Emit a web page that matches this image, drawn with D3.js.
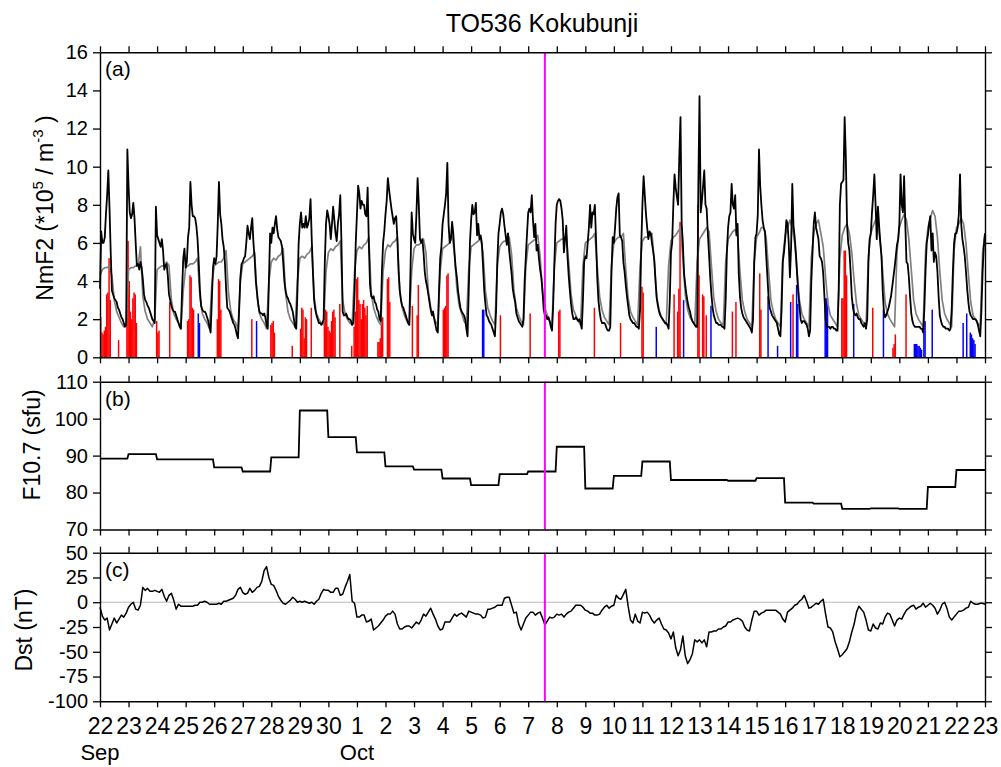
<!DOCTYPE html>
<html>
<head>
<meta charset="utf-8">
<script src="https://cdn.jsdelivr.net/npm/d3@7"></script>
<style>
  body { margin: 0; background: #fff; }
  svg { display: block; font-family: "Liberation Sans", Arial, Helvetica, sans-serif; }
</style>
</head>
<body>
<svg id="chart" width="1001" height="767"></svg>
<script>
// ---------------------------------------------------------------------------
// Kokubunji ionosonde (TO536), 22 Sep 00 UT – 23 Oct 00 UT
// ---------------------------------------------------------------------------

const titleText = "TO536 Kokubunji";

// Day tick labels along the time axis (one per UT midnight) and month names
const dayTicks = ["22","23","24","25","26","27","28","29","30","1","2","3","4","5","6",
                  "7","8","9","10","11","12","13","14","15","16","17","18","19","20","21","22","23"];
const monthTicks = [{ day: 0, label: "Sep" }, { day: 9, label: "Oct" }];

// Hourly observed NmF2, one row per UT day
const nmf2Obs = [
  [3.6,6.6,6.0,6.0,6.3,7.5,8.5,9.8,7.8,5.5,3.5,3.3,3.1,3.0,2.9,2.6,2.5,2.3,2.1,2.0,1.8,1.6,1.7,10.9],
  [9.0,7.6,7.3,7.5,8.1,7.3,6.0,4.8,4.9,4.6,5.0,4.7,4.1,3.3,3.0,2.9,2.7,2.6,2.4,2.2,2.0,1.9,1.8,7.9],
  [6.4,6.2,6.0,5.8,6.2,5.6,4.6,4.8,4.9,4.3,3.3,3.0,2.7,2.5,2.4,2.4,2.2,2.0,1.8,1.6,1.5,3.5,5.2,5.7],
  [4.7,5.0,6.3,6.8,9.2,8.0,7.4,7.4,7.3,6.9,6.2,5.0,3.5,2.7,2.5,2.4,2.4,2.3,2.1,1.9,1.6,1.3,3.0,4.7],
  [5.2,4.9,5.3,7.0,9.2,7.5,7.0,6.2,5.8,5.0,3.6,2.6,2.5,2.4,2.2,2.0,1.8,1.7,1.5,1.2,1.0,2.5,4.2,4.9],
  [5.0,5.2,5.3,6.0,6.9,6.5,6.2,6.8,7.3,6.0,5.2,4.0,3.4,2.8,2.4,2.3,2.3,2.2,2.3,2.1,1.7,1.5,4.0,6.5],
  [6.0,6.8,6.5,7.0,7.4,6.7,6.3,6.2,6.1,5.8,5.0,4.0,3.5,3.2,3.1,2.9,2.8,2.6,2.4,2.0,1.6,1.5,3.5,6.0],
  [7.0,7.6,6.8,7.0,6.8,7.4,6.8,7.0,7.3,8.3,6.2,4.5,3.0,2.5,2.2,2.0,1.8,1.8,1.7,1.8,2.0,5.0,7.0,7.7],
  [7.4,7.0,6.2,7.0,7.9,7.2,6.5,6.1,7.0,7.5,8.5,6.0,2.4,2.2,2.2,2.3,2.1,2.0,2.0,1.9,1.7,1.8,3.5,6.0],
  [7.5,9.0,8.6,7.8,8.2,8.0,8.0,7.5,7.4,8.9,6.0,3.8,3.2,3.1,3.2,2.9,2.8,2.5,2.4,2.0,1.9,4.5,6.0,6.6],
  [7.5,8.2,9.4,8.8,8.3,7.8,7.4,7.0,7.3,7.4,6.2,4.5,3.5,3.0,2.7,2.6,2.4,2.2,2.0,1.8,1.7,4.5,7.6,6.5],
  [6.2,6.0,7.5,9.4,8.0,6.2,6.0,6.2,5.5,4.5,4.0,3.7,3.3,2.9,2.5,2.2,2.4,2.0,1.7,1.4,1.3,3.5,5.2,5.8],
  [7.0,7.5,8.0,8.6,10.2,7.0,6.0,6.2,7.1,6.5,5.5,4.7,4.2,3.5,3.0,2.6,2.4,2.3,2.2,2.0,1.5,1.1,3.5,6.0],
  [7.2,8.0,7.5,7.6,8.1,6.4,7.0,6.2,6.4,6.0,4.8,3.5,2.8,2.2,2.1,1.9,1.8,1.7,1.5,1.3,1.1,2.5,5.0,6.5],
  [7.0,7.6,7.8,7.5,6.9,6.4,5.9,6.5,5.6,5.0,4.4,3.6,3.2,2.9,2.3,2.1,1.9,1.8,1.7,1.6,2.0,4.0,5.3,6.5],
  [7.6,7.8,7.6,8.5,7.2,6.3,7.0,5.6,5.9,5.2,4.6,4.2,3.5,2.5,2.2,2.2,2.0,2.1,1.9,1.6,1.4,2.8,5.0,7.0],
  [8.0,8.2,8.3,8.2,7.8,7.2,5.5,6.2,6.9,5.3,4.3,3.5,2.8,2.3,2.0,2.0,2.1,2.0,1.9,2.0,1.8,1.5,3.0,5.0],
  [5.3,5.2,6.0,6.8,8.0,6.8,7.6,7.5,8.0,6.2,4.2,3.0,2.4,2.0,1.8,1.8,1.8,1.7,1.5,1.4,1.4,1.6,4.5,6.3],
  [6.0,6.8,7.8,8.4,8.6,6.4,6.3,6.1,5.0,4.5,3.8,3.2,2.7,2.2,2.0,1.9,1.8,1.8,1.7,1.6,1.6,1.5,2.5,5.8],
  [8.0,9.5,8.5,7.5,6.8,6.2,6.6,6.5,6.0,5.6,5.1,4.0,3.1,2.7,2.4,2.2,2.1,2.0,1.9,1.8,1.8,1.7,1.5,3.0],
  [5.5,6.0,8.0,9.6,8.9,8.4,8.0,10.5,12.6,7.0,6.0,4.4,3.8,3.3,2.9,2.6,2.4,2.1,1.9,1.8,1.7,1.6,1.6,9.0],
  [13.7,7.6,8.2,9.0,9.8,8.0,7.8,6.5,5.4,4.2,3.3,2.6,2.2,2.0,1.8,1.8,1.7,1.7,1.7,1.6,1.6,1.5,3.0,5.5],
  [6.8,7.4,7.6,9.1,8.0,7.8,8.5,6.4,7.0,4.4,3.2,2.6,2.3,2.1,2.0,1.9,1.8,1.7,1.6,1.5,1.3,2.0,5.0,6.3],
  [6.5,7.5,10.9,9.0,8.0,7.2,6.8,6.6,5.4,4.3,3.2,2.6,2.4,2.2,2.1,2.0,1.9,1.8,1.5,1.2,1.1,2.5,5.0,5.5],
  [6.2,7.2,7.0,6.0,4.2,5.8,9.1,6.9,6.3,5.5,4.4,3.4,2.7,2.0,1.8,1.9,1.9,1.8,1.7,1.5,1.1,1.4,4.0,5.5],
  [7.0,7.6,6.8,6.5,6.2,5.3,5.2,5.0,4.4,3.2,2.0,1.6,1.6,1.6,1.5,1.6,1.6,1.5,1.5,1.4,1.4,3.5,8.0,9.1],
  [9.2,9.3,12.6,10.5,7.0,6.0,5.6,4.5,3.2,2.6,2.3,2.2,2.3,2.1,2.0,2.0,1.8,1.7,1.6,1.8,1.5,2.0,5.0,6.2],
  [6.5,7.6,8.5,9.6,8.0,6.2,7.9,6.9,6.0,5.3,3.5,2.4,2.1,2.2,2.4,2.6,2.9,3.2,3.7,4.2,4.7,5.3,5.9,6.2],
  [7.0,9.6,8.0,7.6,9.5,7.0,5.0,4.9,4.2,3.2,2.3,1.9,1.7,1.6,1.6,1.6,1.6,1.6,1.5,1.5,1.3,2.5,4.5,6.0],
  [6.4,7.0,7.4,5.6,6.5,5.0,5.5,5.3,4.5,3.2,2.2,1.9,1.7,1.6,1.6,1.5,1.5,1.5,1.4,1.5,2.5,4.5,6.0,6.5],
  [6.5,6.8,7.5,9.6,7.0,6.2,5.8,5.3,4.5,3.6,2.9,2.4,2.2,2.1,2.0,2.0,2.0,1.9,1.7,1.4,1.1,2.5,4.5,5.8]
];
const nmf2ObsLast = 6.5;   // 23 Oct 00 UT

// Reference (median) NmF2, every 2 hours, one row per UT day
const nmf2Median = [
  [4.3,4.6,4.7,4.7,4.8,4.3,3.0,2.4,2.1,1.8,1.6,1.8],
  [4.6,4.7,4.7,4.8,4.8,5.8,3.2,2.4,2.0,1.8,1.6,2.0],
  [4.6,4.7,4.8,4.8,5.0,4.8,3.0,2.3,2.0,1.8,1.5,3.5],
  [4.7,4.8,4.9,4.9,5.0,5.2,3.2,2.3,2.0,1.8,1.5,3.8],
  [4.8,4.9,5.0,5.0,5.2,5.6,3.4,2.4,2.0,1.8,1.5,4.0],
  [4.9,5.0,5.1,5.2,5.3,5.5,3.2,2.3,2.0,1.8,1.5,4.0],
  [5.0,5.2,5.1,5.3,5.4,5.7,3.4,2.4,2.0,1.8,1.6,4.0],
  [5.2,5.3,5.2,5.4,5.5,5.8,3.2,2.3,2.0,1.8,1.7,4.5],
  [5.5,5.7,5.6,5.8,5.9,6.1,3.0,2.3,2.0,1.8,1.7,4.5],
  [5.6,5.8,5.7,5.9,6.0,6.3,3.4,2.6,2.2,1.9,1.7,4.5],
  [5.6,5.9,5.8,6.0,6.1,6.3,3.5,2.6,2.2,1.9,1.7,4.5],
  [5.7,5.9,5.9,6.0,6.2,5.5,3.5,2.6,2.2,1.9,1.7,4.5],
  [5.7,5.8,5.9,6.0,6.5,5.4,3.6,2.7,2.3,1.9,1.7,4.6],
  [5.8,5.9,6.0,6.1,6.2,5.5,3.5,2.6,2.2,1.9,1.7,4.8],
  [5.8,6.0,6.1,6.1,6.3,5.4,3.5,2.6,2.2,1.9,1.7,4.8],
  [5.9,6.0,6.1,6.2,6.4,5.3,3.4,2.6,2.2,1.9,1.7,4.8],
  [6.0,6.1,6.2,6.2,6.4,5.0,3.3,2.5,2.2,1.9,1.7,4.8],
  [6.0,6.1,6.2,6.3,6.5,4.8,3.2,2.5,2.1,1.9,1.7,4.8],
  [6.0,6.2,6.3,6.3,6.5,4.6,3.1,2.4,2.1,1.9,1.7,4.8],
  [6.1,6.3,6.3,6.4,6.5,5.0,3.2,2.5,2.1,1.9,1.7,4.8],
  [6.1,6.3,6.4,6.6,6.8,5.2,3.3,2.5,2.1,1.9,1.7,5.0],
  [6.2,6.4,6.6,6.8,6.6,4.8,3.1,2.4,2.0,1.8,1.7,5.0],
  [6.2,6.4,6.6,6.7,6.4,4.5,3.0,2.4,2.0,1.8,1.6,5.0],
  [6.3,6.5,6.8,6.8,6.3,4.6,3.0,2.4,2.0,1.8,1.6,5.2],
  [6.4,6.8,7.2,6.8,6.0,4.5,3.0,2.3,2.0,1.8,1.6,5.2],
  [6.5,7.0,7.2,6.5,5.8,4.2,2.8,2.2,2.0,1.8,1.6,5.2],
  [6.4,6.8,7.0,6.5,5.5,4.0,2.8,2.2,2.0,1.8,1.6,5.3],
  [6.5,6.9,7.2,7.0,6.0,4.5,2.9,2.3,2.0,1.8,1.6,5.5],
  [6.8,7.2,7.5,7.2,6.2,4.6,3.0,2.3,2.0,1.8,1.6,5.5],
  [6.8,7.3,7.7,7.4,6.3,4.5,3.0,2.3,2.0,1.8,1.6,5.6],
  [6.8,7.0,7.3,7.0,6.0,4.4,2.9,2.2,2.0,1.8,1.6,5.5]
];
const nmf2MedianLast = 6.5;

// Hourly bars in panel (a): [hour since 22 Sep 00 UT, value]
const barsRed = [
  [0,2.1],[1,1.3],[2,1.2],[3,1.4],[4,1.6],[5,3.3],[6,3.4],[7,5.2],[8,3.0],
  [15,0.9],
  [22,2.5],[23,6.1],[24,4.0],[25,2.4],[26,2.0],[27,3.1],[28,3.4],[29,3.3],[30,1.8],
  [47,1.9],[48,1.3],[49,1.4],
  [58,2.9],
  [73,1.9],[74,2.0],[75,4.3],[76,4.2],[77,2.6],[78,2.5],
  [98,2.0],[99,4.1],[100,4.0],[101,2.5],
  [127,2.0],
  [143,1.7],[144,1.8],[145,1.9],[146,1.3],
  [161,0.6],
  [168,1.5],[169,2.6],[170,2.5],[171,1.0],[172,2.1],[173,2.0],
  [177,2.6],
  [188,2.5],[189,2.5],[190,2.4],[191,1.6],[192,1.4],[193,1.3],[194,1.9],[195,2.4],[196,2.5],[197,2.1],
  [201,2.8],
  [211,0.6],
  [213,1.6],[214,2.4],[215,4.1],[216,4.2],[217,3.0],[218,2.8],[219,2.0],[220,2.8],[221,3.0],[222,2.6],[223,2.2],[224,2.7],
  [233,0.8],[234,0.8],[235,1.0],[236,2.0],[237,2.1],
  [241,4.1],[242,4.2],[243,2.9],
  [262,2.7],[266,2.2],[267,3.8],
  [288,2.5],[289,2.6],[290,2.7],[291,4.3],[292,4.4],
  [336,2.2],[361,2.3],[385,2.4],[386,2.5],[415,2.6],[437,1.8],
  [455,3.7],[456,3.4],
  [482,3.3],[485,2.4],[486,3.6],[487,7.1],
  [502,8.0],[503,4.3],[506,3.3],[507,3.2],[509,2.2],
  [531,2.4],[534,2.9],
  [554,4.4],[555,2.5],
  [582,3.3],
  [623,3.1],[624,3.1],[625,5.6],[626,5.6],[627,4.3],
  [649,2.6],
  [666,0.5],[667,0.7],[668,1.2],
  [677,3.3]
];
const barsBlue = [
  [82,2.3],[83,1.8],[131,1.9],[321,2.5],[322,2.5],[467,1.6],[490,3.0],[513,2.7],[561,3.2],[569,0.6],
  [580,2.9],[585,3.8],[586,2.8],[609,3.1],[610,3.1],[611,3.1],[633,2.8],[658,2.5],
  [684,0.7],[685,0.7],[686,0.7],[687,0.6],[688,0.6],[689,0.5],[690,0.4],[692,1.9],[693,1.9],
  [699,2.5],[725,1.8],[728,2.3],[731,1.3],[732,1.2],[733,1.0],[734,0.9],[735,0.7]
];

// Daily F10.7 solar flux (sfu), 22 Sep – 22 Oct
const f107Daily = [89.2,90.4,89.0,89.0,86.8,85.7,89.5,102.2,95.0,90.9,87.1,86.2,83.8,82.0,85.0,
                   85.7,92.4,81.1,84.5,88.4,83.4,83.4,83.2,83.9,77.3,77.0,75.6,75.7,75.6,81.5,86.1];

// Dst index (nT), every 2 hours from 22 Sep 00 UT to 23 Oct 00 UT
const dstValues = [
  -5,-14,-18,-16,-28,-22,-16,-21,-17,-13,-15,-11,-5,-2,0,-7,-8,-3,15,12,
  14,11,11,12,11,10,13,6,1,7,9,2,-7,-2,-4,-4,-4,-4,-4,-4,
  -3,-3,0,0,1,0,-2,-2,-2,-2,-1,-2,1,1,2,3,4,7,13,15,
  10,8,9,14,10,12,15,16,21,32,36,25,18,17,12,6,2,-1,-2,0,
  2,5,3,0,1,0,1,0,-1,0,-2,1,3,9,13,12,12,10,10,14,
  14,7,8,15,21,28,1,-1,-15,-15,-13,-13,-20,-19,-17,-28,-26,-24,-21,-18,
  -14,-12,-12,-9,-12,-22,-27,-27,-25,-24,-24,-26,-23,-20,-22,-18,-12,-14,-10,-6,
  -12,-17,-24,-28,-27,-20,-20,-20,-16,-12,-14,-12,-11,-13,-15,-9,-10,-11,-12,-12,
  -13,-16,-15,-7,-7,-6,-5,-3,
  -3,-3,4,5,5,-3,-11,-10,-22,-28,-22,-16,-13,-10,-10,-13,-11,-10,-16,-23,
  -19,-15,-16,-15,-12,-13,-12,-15,-12,-10,-9,-6,-3,-3,-3,-5,-8,-9,-11,-11,
  -13,-13,-12,-8,-5,-3,-6,-4,-3,7,4,3,8,13,-4,-18,-21,-12,-19,-21,
  -10,-11,-10,-13,-18,-21,-18,-16,-22,-27,-28,-31,-37,-30,-46,-54,-48,-34,-54,-62,
  -58,-52,-38,-40,-38,-41,-38,-45,-30,-30,-29,-29,-27,-27,-25,-24,-20,-20,-18,-17,
  -16,-17,-19,-25,-28,-29,-18,-9,-9,-13,-11,-10,-8,-8,-8,-8,-8,-10,-12,-17,
  -20,-10,-8,-6,-3,-2,1,3,7,1,-6,-5,-3,-1,-2,1,3,-12,-25,-26,
  -30,-40,-47,-55,-53,-50,-47,-40,-30,-22,-10,-4,-7,-10,-18,-28,-29,-22,-26,-27,
  -21,-22,-15,-11,-12,-18,-24,-18,-16,-17,-12,-8,-6,-4,-3,-7,-5,-4,-1,-5,
  -3,-1,-3,-6,-12,-8,-2,0,-6,-15,-18,-15,-12,-9,-9,-8,-6,-5,1,-1,
  -2,-2,-1,-1,-2
];

// Time of the highlighted event (hours since 22 Sep 00 UT): 7 Oct 14 UT
const eventHour = 374;

// ---------------------------------------------------------------------------
const svg = d3.select("#chart");
const FONT_TICK_Y = 20, FONT_TICK_X = 23, FONT_TITLE_Y = 23;

const x = d3.scaleLinear().domain([0, 31]).range([100, 985]);   // days since 22 Sep 00 UT
const hx = h => x(h / 24);

const panels = {
  a: { top: 52.3,  bottom: 357.3, domain: [0, 16],    ticks: d3.range(0, 17, 2),      tag: "(a)" },
  b: { top: 381.7, bottom: 529.5, domain: [70, 110],  ticks: d3.range(70, 111, 10),   tag: "(b)" },
  c: { top: 552.7, bottom: 701.3, domain: [-100, 50], ticks: d3.range(-100, 51, 25),  tag: "(c)" }
};
Object.values(panels).forEach(p => {
  p.y = d3.scaleLinear().domain(p.domain).range([p.bottom, p.top]);
});

function styleAxis(g) {
  g.attr("font-size", null).attr("font-family", null);
  g.selectAll(".domain").attr("stroke", "#000").attr("stroke-width", 1.4);
  g.selectAll(".tick line").attr("stroke", "#000").attr("stroke-width", 1.3);
  g.selectAll(".tick text").attr("fill", "#000");
}

function drawFrame(p, withLabels) {
  const g = svg.append("g");
  const dayVals = d3.range(0, 32);
  g.append("g").attr("transform", `translate(0,${p.top})`)
    .call(d3.axisTop(x).tickValues(dayVals).tickSize(6).tickSizeOuter(0).tickFormat(""))
    .call(styleAxis);
  const bottom = g.append("g").attr("transform", `translate(0,${p.bottom})`)
    .call(d3.axisBottom(x).tickValues(dayVals).tickSize(6).tickSizeOuter(0).tickPadding(10)
      .tickFormat(withLabels ? (d, i) => dayTicks[i] : ""))
    .call(styleAxis);
  bottom.selectAll(".tick text").attr("font-size", FONT_TICK_X);
  const left = g.append("g").attr("transform", "translate(100,0)")
    .call(d3.axisLeft(p.y).tickValues(p.ticks).tickSize(7).tickSizeOuter(0).tickPadding(5)
      .tickFormat(d => String(d)))
    .call(styleAxis);
  left.selectAll(".tick text").attr("font-size", FONT_TICK_Y);
  g.append("g").attr("transform", "translate(985,0)")
    .call(d3.axisRight(p.y).tickValues(p.ticks).tickSize(7).tickSizeOuter(0).tickFormat(""))
    .call(styleAxis);
  g.append("text").attr("x", 105).attr("y", p.top + 24)
    .attr("font-size", 21).attr("fill", "#000").text(p.tag);
}

function eventLine(p) {
  svg.append("line")
    .attr("x1", hx(eventHour)).attr("x2", hx(eventHour))
    .attr("y1", p.top).attr("y2", p.bottom)
    .attr("stroke", "#ff00ff").attr("stroke-width", 2);
}

function yTitle(parts, bx, cy) {
  const t = svg.append("text")
    .attr("transform", `translate(${bx},${cy}) rotate(-90)`)
    .attr("text-anchor", "middle").attr("font-size", FONT_TITLE_Y).attr("fill", "#000");
  parts.forEach(pt => {
    const s = t.append("tspan").text(pt.text);
    if (pt.sup) s.attr("font-size", 15).attr("dy", pt.dy);
    else if (pt.dy) s.attr("dy", pt.dy);
  });
}

// ---- panel (a): NmF2 -------------------------------------------------------
const pa = panels.a;
const barW = hx(1) - hx(0) + 0.3;
const barLayer = svg.append("g");
[[barsRed, "#ff0000"], [barsBlue, "#0000ff"]].forEach(([list, col]) => {
  barLayer.selectAll(null).data(list).join("rect")
    .attr("x", d => hx(d[0]))
    .attr("width", barW)
    .attr("y", d => pa.y(d[1]))
    .attr("height", d => pa.y(0) - pa.y(d[1]))
    .attr("fill", col);
});

const medSeries = nmf2Median.flat().concat([nmf2MedianLast]);
svg.append("path")
  .attr("d", d3.line().x((d, i) => hx(i * 2)).y(d => pa.y(d))(medSeries))
  .attr("fill", "none").attr("stroke", "#808080").attr("stroke-width", 1.7)
  .attr("stroke-linejoin", "round");

const obsSeries = nmf2Obs.flat().concat([nmf2ObsLast]);
svg.append("path")
  .attr("d", d3.line().x((d, i) => hx(i)).y(d => pa.y(d))(obsSeries))
  .attr("fill", "none").attr("stroke", "#000").attr("stroke-width", 1.8)
  .attr("stroke-linejoin", "round");

eventLine(pa);
drawFrame(pa, false);

// ---- panel (b): F10.7 ------------------------------------------------------
const pb = panels.b;
const f107Pts = [];
f107Daily.forEach((v, d) => {
  f107Pts.push([d, v]);
  f107Pts.push([d === f107Daily.length - 1 ? d + 1 : d + 23 / 24, v]);
});
svg.append("path")
  .attr("d", d3.line().x(d => x(d[0])).y(d => pb.y(d[1]))(f107Pts))
  .attr("fill", "none").attr("stroke", "#000").attr("stroke-width", 1.8);
eventLine(pb);
drawFrame(pb, false);

// ---- panel (c): Dst --------------------------------------------------------
const pc = panels.c;
svg.append("line")
  .attr("x1", x(0)).attr("x2", x(31)).attr("y1", pc.y(0)).attr("y2", pc.y(0))
  .attr("stroke", "#b8b8b8").attr("stroke-width", 1.2);
svg.append("path")
  .attr("d", d3.line().x((d, i) => hx(i * 2)).y(d => pc.y(d))(dstValues))
  .attr("fill", "none").attr("stroke", "#000").attr("stroke-width", 1.5)
  .attr("stroke-linejoin", "round");
eventLine(pc);
drawFrame(pc, true);

// month names under the first day of each month
svg.append("g").selectAll("text").data(monthTicks).join("text")
  .attr("x", d => x(d.day)).attr("y", 760)
  .attr("text-anchor", "middle").attr("font-size", 22).attr("fill", "#000")
  .text(d => d.label);

// ---- titles ----------------------------------------------------------------
svg.append("text").attr("x", 542).attr("y", 31.5)
  .attr("text-anchor", "middle").attr("font-size", 25).attr("fill", "#000")
  .text(titleText);

yTitle([{ text: "NmF2 (*10" }, { text: "5", sup: true, dy: -10 },
        { text: " / m", dy: 10 }, { text: "-3", sup: true, dy: -10 },
        { text: " )", dy: 10 }], 53, 208);
yTitle([{ text: "F10.7 (sfu)" }], 40, 445);
yTitle([{ text: "Dst (nT)" }], 32, 630);
</script>
</body>
</html>
